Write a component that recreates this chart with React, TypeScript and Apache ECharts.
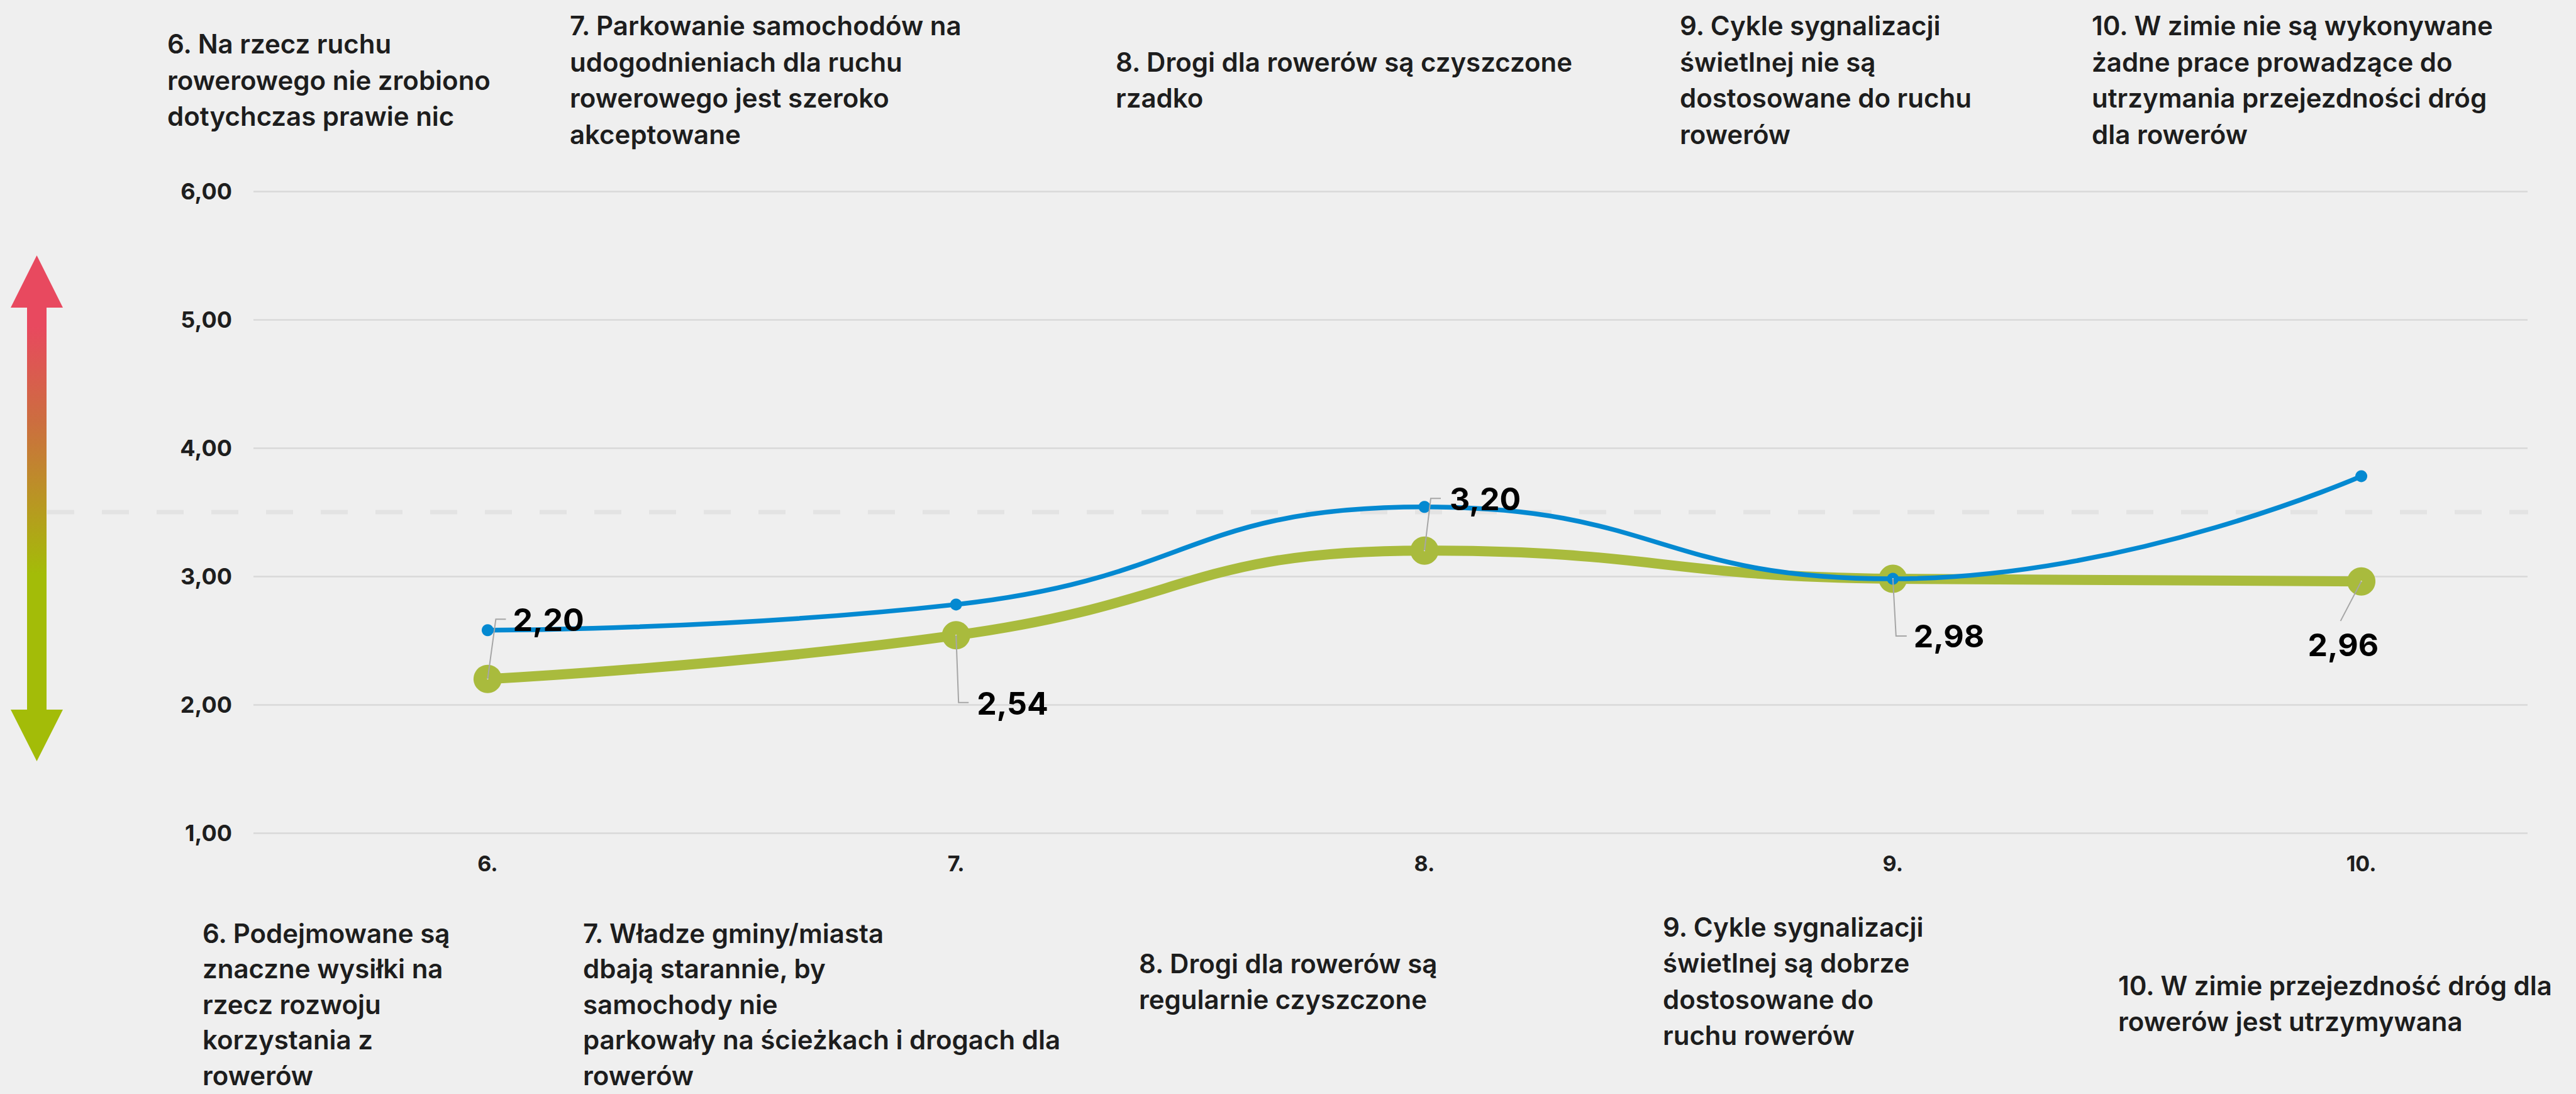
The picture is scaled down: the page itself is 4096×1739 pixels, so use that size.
import React, { useEffect, useRef } from "react";
import * as echarts from "echarts";

// ---------- data ----------
const categories = [6, 7, 8, 9, 10];
const xTickLabels = ["6.", "7.", "8.", "9.", "10."];
const blueValues = [2.58, 2.78, 3.54, 2.98, 3.78];
const greenValues = [2.2, 2.54, 3.2, 2.98, 2.96];
const yMin = 1;
const yMax = 6;
const yStep = 1;
const referenceLevel = 3.5;

const topNotes = [
  ["6. Na rzecz ruchu", "rowerowego nie zrobiono", "dotychczas prawie nic"],
  ["7. Parkowanie samochodów na", "udogodnieniach dla ruchu", "rowerowego jest szeroko", "akceptowane"],
  ["8. Drogi dla rowerów są czyszczone", "rzadko"],
  ["9. Cykle sygnalizacji", "świetlnej nie są", "dostosowane do ruchu", "rowerów"],
  ["10. W zimie nie są wykonywane", "żadne prace prowadzące do", "utrzymania przejezdności dróg", "dla rowerów"],
];
const bottomNotes = [
  ["6. Podejmowane są", "znaczne wysiłki na", "rzecz rozwoju", "korzystania z", "rowerów"],
  ["7. Władze gminy/miasta", "dbają starannie, by", "samochody nie", "parkowały na ścieżkach i drogach dla", "rowerów"],
  ["8. Drogi dla rowerów są", "regularnie czyszczone"],
  ["9. Cykle sygnalizacji", "świetlnej są dobrze", "dostosowane do", "ruchu rowerów"],
  ["10. W zimie przejezdność dróg dla", "rowerów jest utrzymywana"],
];

// ---------- layout / style ----------
const W = 4096;
const H = 1739;
const FONT = "Inter, 'Noto Sans', sans-serif";
const BG = "#efefef";
const BLUE = "#0489d1";
const GREEN = "#a9bb3d";
const GRID = { left: 403, top: 304, right: 4019, bottom: 1324 };
const X_MIN = 5.5;
const X_MAX = 10.355;
const NOTE_SIZE = 42;
const NOTE_LH = 57.5;
const topNoteX = [266, 906, 1774, 2671, 3326];
const topNoteCenterY = 127;
const bottomNoteX = [322, 927, 1811, 2644, 3368];
const bottomNoteFirstY = [1483, 1483, 1531, 1473, 1566];
const bottomNoteLH = [56.5, 56.5, NOTE_LH, NOTE_LH, NOTE_LH];
const labelOffsets = [
  [40, -94],
  [33, 108],
  [40, -82],
  [33, 91],
  [-85, 101],
];
const leaderPts = [
  [[13, -95], [29, -95]],
  [[4, 107], [20, 107]],
  [[10, -83], [26, -83]],
  [[5, 91], [22, 91]],
  [[-33, 63]],
];
const arrowPts = [
  [58.5, 406], [100, 489], [74, 489], [74, 1128], [100, 1128],
  [58.5, 1210], [17, 1128], [43, 1128], [43, 489], [17, 489],
];

const fmt = (v: number) => v.toFixed(2).replace(".", ",");

export default function App() {
  const ref = useRef<HTMLDivElement>(null);
  useEffect(() => {
    if (!ref.current) return;
    const chart = echarts.init(ref.current, null, { renderer: "svg" });
    const option: any = {
      animation: false,
      backgroundColor: BG,
      grid: {
        left: GRID.left,
        top: GRID.top,
        width: GRID.right - GRID.left,
        height: GRID.bottom - GRID.top,
        containLabel: false,
      },
      xAxis: {
        type: "value",
        min: X_MIN,
        max: X_MAX,
        axisLine: { show: false },
        axisTick: { show: false },
        splitLine: { show: false },
        axisLabel: {
          customValues: categories,
          formatter: (v: number) => xTickLabels[categories.indexOf(v)] ?? "",
          fontFamily: FONT,
          fontWeight: 700,
          fontSize: 34,
          color: "#1e1e1e",
          margin: 31,
        },
      },
      yAxis: {
        type: "value",
        min: yMin,
        max: yMax,
        interval: yStep,
        axisLine: { show: false },
        axisTick: { show: false },
        splitLine: { lineStyle: { color: "#d9d9d9", width: 2.5 } },
        axisLabel: {
          formatter: (v: number) => fmt(v),
          fontFamily: FONT,
          fontWeight: 700,
          fontSize: 36,
          color: "#1e1e1e",
          margin: 34,
        },
      },
      series: [
        {
          type: "line",
          name: "green",
          smooth: 0.5,
          symbol: "circle",
          symbolSize: 45,
          lineStyle: { color: GREEN, width: 16 },
          itemStyle: { color: GREEN },
          z: 2,
          data: greenValues.map((v, i) => [categories[i], v]),
        },
        {
          type: "line",
          name: "blue",
          smooth: 0.5,
          symbol: "circle",
          symbolSize: 19,
          lineStyle: { color: BLUE, width: 7.5 },
          itemStyle: { color: BLUE },
          z: 3,
          data: blueValues.map((v, i) => [categories[i], v]),
        },
        {
          type: "scatter",
          name: "greenLabels",
          symbolSize: 2,
          itemStyle: { color: BG, opacity: 1 },
          silent: true,
          z: 6,
          label: {
            show: true,
            position: "inside",
            align: "left",
            verticalAlign: "middle",
            formatter: (p: any) => fmt(p.value[1]),
            fontFamily: FONT,
            fontWeight: 700,
            fontSize: 50,
            color: "#000000",
            opacity: 1,
            textBorderWidth: 0,
            textBorderColor: "transparent",
          },
          data: greenValues.map((v, i) => ({
            value: [categories[i], v],
            label: { offset: labelOffsets[i] },
          })),
        },
      ],
    };
    chart.setOption(option);

    const graphic: any[] = [];
    graphic.push({
      type: "polygon",
      z: 1,
      shape: { points: arrowPts },
      style: {
        fill: new echarts.graphic.LinearGradient(0, 0, 0, 1, [
          { offset: 0, color: "#e8495f" },
          { offset: 0.14, color: "#e8495f" },
          { offset: 0.33, color: "#cc6e3f" },
          { offset: 0.5, color: "#b79a20" },
          { offset: 0.63, color: "#a3bc08" },
          { offset: 1, color: "#a3bc08" },
        ]),
      },
    });
    const refY = chart.convertToPixel({ gridIndex: 0 }, [X_MIN, referenceLevel])[1];
    graphic.push({
      type: "line",
      z: 1,
      shape: { x1: 75, y1: refY, x2: 4020, y2: refY },
      style: { stroke: "#e3e3e3", lineWidth: 7, lineDash: [43, 44] },
    });
    greenValues.forEach((v, i) => {
      const p = chart.convertToPixel({ gridIndex: 0 }, [categories[i], v]);
      const pts = [[p[0], p[1]], ...leaderPts[i].map((d) => [p[0] + d[0], p[1] + d[1]])];
      graphic.push({
        type: "polyline",
        z: 10,
        shape: { points: pts },
        style: { stroke: "#a6a6a6", lineWidth: 2, fill: null },
      });
    });
    const noteStyle = {
      fontFamily: FONT,
      fontWeight: 600,
      fontSize: NOTE_SIZE,
      lineHeight: NOTE_SIZE,
      fill: "#1d1d1d",
      align: "left",
      verticalAlign: "middle",
    };
    topNotes.forEach((lines, i) => {
      const first = topNoteCenterY - ((lines.length - 1) * NOTE_LH) / 2;
      lines.forEach((line, j) => {
        graphic.push({
          type: "text",
          z: 5,
          x: topNoteX[i],
          y: first + j * NOTE_LH,
          style: { ...noteStyle, text: line },
        });
      });
    });
    bottomNotes.forEach((lines, i) => {
      lines.forEach((line, j) => {
        graphic.push({
          type: "text",
          z: 5,
          x: bottomNoteX[i],
          y: bottomNoteFirstY[i] + j * bottomNoteLH[i],
          style: { ...noteStyle, text: line },
        });
      });
    });
    chart.setOption({ graphic });

    return () => chart.dispose();
  }, []);
  return (
    <div
      ref={ref}
      style={{ position: "fixed", left: 0, top: 0, width: W, height: H, background: BG }}
    />
  );
}
